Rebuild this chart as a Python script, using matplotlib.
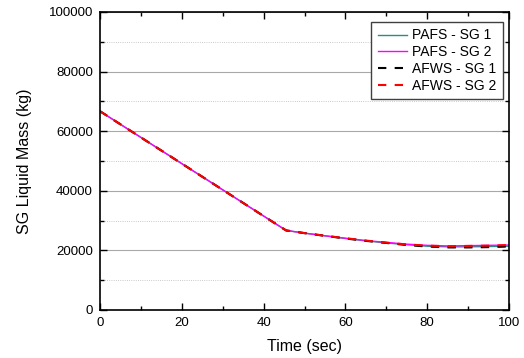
import matplotlib
matplotlib.use("Agg")
import matplotlib.pyplot as plt
from matplotlib.ticker import MultipleLocator

plt.rcParams['font.family'] = ['Liberation Sans', 'DejaVu Sans']

time = [0, 45.5, 50, 55, 60, 65, 70, 75, 80, 85, 90, 95, 100]
pafs_sg1 = [66700, 26700, 25800, 24900, 24000, 23200, 22500, 21900, 21400, 21200, 21200, 21300, 21400]
pafs_sg2 = [66700, 26700, 25800, 24900, 24100, 23300, 22700, 22100, 21700, 21500, 21600, 21700, 21800]
afws_sg1 = [66700, 26700, 25800, 24900, 24000, 23200, 22500, 21800, 21300, 21000, 21000, 21100, 21300]
afws_sg2 = [66700, 26700, 25800, 24900, 24100, 23300, 22600, 22000, 21600, 21400, 21500, 21600, 21800]

fig = plt.figure(figsize=(5.24, 3.58), dpi=100)
ax = fig.add_axes([100/524, 1-310/358, 409/524, 298/358])

ax.plot(time, pafs_sg1, color='#2e8b84', lw=1.0, label='PAFS - SG 1')
ax.plot(time, pafs_sg2, color='#ff00ff', lw=1.0, label='PAFS - SG 2')
ax.plot(time, afws_sg1, color='black', lw=1.5, ls=(0, (4, 4)), label='AFWS - SG 1')
ax.plot(time, afws_sg2, color='red', lw=1.5, ls=(0, (4, 4)), label='AFWS - SG 2')

ax.set_xlim(0, 100)
ax.set_ylim(0, 100000)
ax.xaxis.set_major_locator(MultipleLocator(20))
ax.xaxis.set_minor_locator(MultipleLocator(10))
ax.yaxis.set_major_locator(MultipleLocator(20000))
ax.yaxis.set_minor_locator(MultipleLocator(10000))
ax.grid(True, which='major', axis='y', color='#a8a8a8', lw=0.8, ls='-')
ax.grid(True, which='minor', axis='y', color='#b8b8b8', lw=0.6, ls=':')
ax.set_axisbelow(True)
ax.tick_params(which='both', direction='in', top=True, right=True, labelsize=9.5, pad=5)
ax.tick_params(which='major', length=5, width=1)
ax.tick_params(which='minor', length=3, width=1)
for s in ax.spines.values():
    s.set_linewidth(1.2)

ax.set_xlabel('Time (sec)', fontsize=11.5, labelpad=7)
ax.set_ylabel('SG Liquid Mass (kg)', fontsize=11.5, labelpad=12)

leg = ax.legend(loc='upper right', bbox_to_anchor=(0.985, 0.966), borderaxespad=0,
                fontsize=10, fancybox=False, edgecolor='#404040', framealpha=1,
                handlelength=2.15, handletextpad=0.35, labelspacing=0.2, borderpad=0.45)
leg.get_frame().set_linewidth(1.0)

fig.savefig('out.png', dpi=100)
